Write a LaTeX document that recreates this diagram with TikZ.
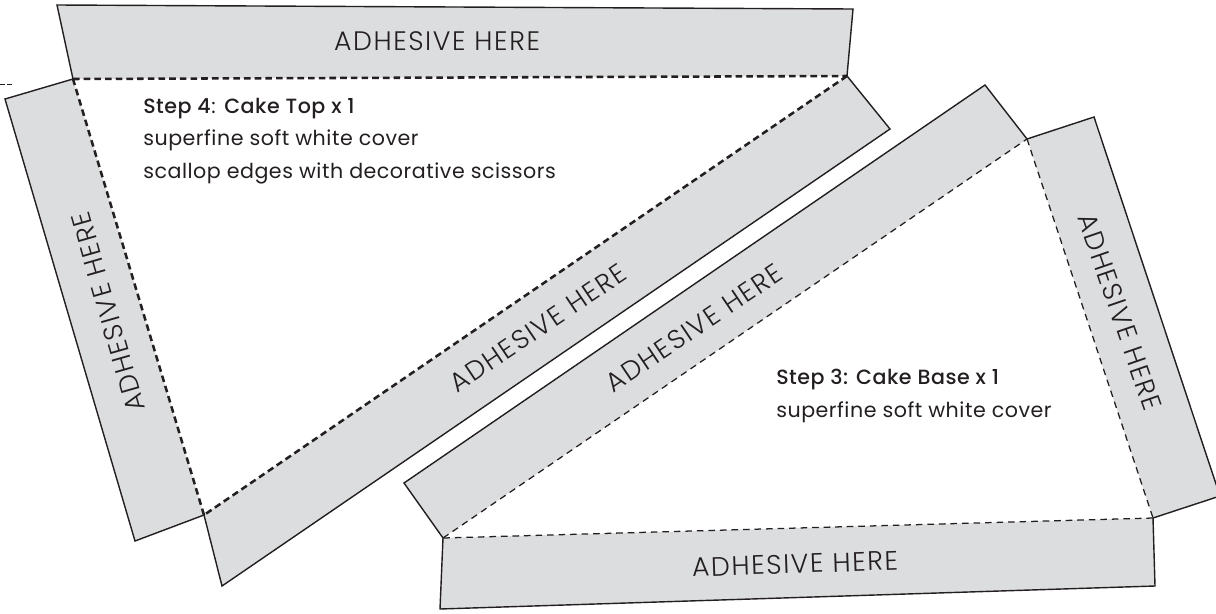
\documentclass[tikz,border=0pt]{standalone}
\usepackage{fontspec}
\setmainfont{Poppins}[BoldFont=Poppins Medium, LetterSpace=2.5]
\newfontfamily\tabfont{Poppins Light}[LetterSpace=6]
\usetikzlibrary{positioning}
\definecolor{tabgray}{HTML}{DCDDDE}
\definecolor{inkgray}{HTML}{231F20}
\newcommand{\tabD}[4]
{
	\fill[tabgray] (#1) -- (#2) -- (#3) -- (#4) -- cycle;
	\draw[cutline] (#1) -- (#2) -- (#3) -- (#4);
}
\begin{document}
\begin{tikzpicture}[x=0.025cm, y=-0.025cm,
			cutline/.style={draw=inkgray, line width=1pt, line join=miter},
			foldtop/.style={draw=inkgray, line width=1.8pt, dash pattern=on 4.7pt off 2.9pt},
			foldbase/.style={draw=inkgray, line width=0.9pt, dash pattern=on 4.7pt off 3.5pt},
			tablabel/.style={text=inkgray, font=\tabfont\fontsize{19pt}{20pt}\selectfont, inner sep=0},
			steplabel/.style={text=inkgray, font=\fontsize{14.65pt}{23.1pt}\selectfont, align=left, inner sep=0}]
			\useasboundingbox (0, 0) rectangle (1216, 613);

			% cake top
			\coordinate (T1) at (73, 79);
			\coordinate (T2) at (847, 76);
			\coordinate (T3) at (204, 515);
			% cake base
			\coordinate (B1) at (1027, 139);
			\coordinate (B2) at (1153, 518);
			\coordinate (B3) at (443, 538);

			\coordinate (TA) at (57, 5);
			\coordinate (TB) at (853, 9);
			\coordinate (TC) at (890, 129);
			\coordinate (TD) at (222, 586);
			\coordinate (TE) at (135, 541);
			\coordinate (TF) at (5, 99);
			\coordinate (BA) at (985, 85);
			\coordinate (BB) at (404, 483);
			\coordinate (BC) at (1094, 117);
			\coordinate (BD) at (1220, 496);
			\coordinate (BE) at (1155, 586);
			\coordinate (BF) at (440, 609);

			\tabD{T1}{TA}{TB}{T2};
			\tabD{T2}{TC}{TD}{T3};
			\tabD{T3}{TE}{TF}{T1};
			\tabD{B1}{BA}{BB}{B3};
			\tabD{B1}{BC}{BD}{B2};
			\tabD{B2}{BE}{BF}{B3};

			\draw[foldtop] (T1) -- (T2);
			\draw[foldtop] (T2) -- (T3);
			\draw[foldtop] (T3) -- (T1);
			\draw[foldbase] (B1) -- (B2);
			\draw[foldbase] (B2) -- (B3);
			\draw[foldbase] (B3) -- (B1);
			\coordinate (M1) at (0, 84.5);
			\coordinate (M2) at (14, 84.5);
			\draw[draw=inkgray, line width=0.5pt, dash pattern=on 3.5pt off 1.5pt] (M1) -- (M2);

			\node[tablabel] at (437, 41) (labelA){ADHESIVE HERE};
			\node[tablabel, rotate=106] at (108, 312) (labelB){ADHESIVE HERE};
			\node[tablabel, rotate=34] at (538, 328) (labelC){ADHESIVE HERE};
			\node[tablabel, rotate=34] at (694, 328) (labelD){ADHESIVE HERE};
			\node[tablabel, rotate=-71] at (1120, 312) (labelE){ADHESIVE HERE};
			\node[tablabel, rotate=2] at (795, 564) (labelF){ADHESIVE HERE};

			\node[steplabel, anchor=base west] at (143, 178) (stepfour){\textbf{Step 4}: \textbf{Cake Top x 1}\\superfine soft white cover\\scallop edges with decorative scissors};
			\node[steplabel, anchor=base west] at (776, 417) (stepthree){\textbf{Step 3: Cake Base x 1}\\superfine soft white cover};
		\end{tikzpicture}
\end{document}
